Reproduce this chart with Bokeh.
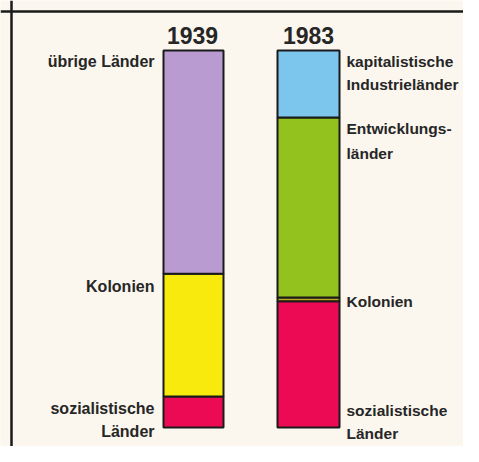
from bokeh.plotting import figure
from bokeh.models import Range1d, Label, Span
from bokeh.embed import file_html
from bokeh.resources import INLINE

# Data (percent shares)
years = ["1939", "1983"]
groups_1939 = ["sozialistische Länder", "Kolonien", "übrige Länder"]
shares_1939 = [8.2, 32.6, 59.2]
groups_1983 = ["sozialistische Länder", "Kolonien", "Entwicklungsländer", "kapitalistische Industrieländer"]
shares_1983 = [33.5, 1.0, 47.7, 17.8]

colors_1939 = ["#ec0a55", "#f7ea0c", "#b99bd2"]
colors_1983 = ["#ec0a55", "#b9a81a", "#93c21f", "#7cc6ee"]

W, H = 463, 446
PX = 3.77  # pixels per percent
bottom_px = H - 427
p = figure(width=W, height=H, output_backend="svg", toolbar_location=None,
           x_range=Range1d(0, W), y_range=Range1d(-bottom_px / PX, (H - bottom_px) / PX),
           min_border=0, min_border_left=0, min_border_right=0, min_border_top=0, min_border_bottom=0)
p.axis.visible = False
p.grid.visible = False
p.outline_line_color = None
p.background_fill_color = "#fbf6ee"
p.border_fill_color = "#fbf6ee"

def stack(x, width, shares, colors):
    bottom = 0.0
    for s, c in zip(shares, colors):
        p.vbar(x=[x], width=width, bottom=[bottom], top=[bottom + s], fill_color=c,
               line_color="#1a1a1a", line_width=2)
        bottom += s

stack(193, 60, shares_1939, colors_1939)
stack(308, 62, shares_1983, colors_1983)

# frame lines (top, left)
p.add_layout(Span(location=(H - bottom_px - 11) / PX, dimension="width", line_color="#1a1a1a", line_width=2.5))
p.add_layout(Span(location=11, dimension="height", line_color="#1a1a1a", line_width=2.5))

TXT = "#262626"
FONT = "Liberation Sans"

def lab(x, y_ref, text, align, size="16px", weight="bold"):
    p.add_layout(Label(x=x, y=H - y_ref, x_units="screen", y_units="screen", text=text,
                       text_align=align, text_baseline="middle", text_font=FONT,
                       text_font_size=size, text_font_style=weight, text_color=TXT))

lab(192, 35, years[0], "center", size="23px", weight="bold")
lab(308, 35, years[1], "center", size="23px", weight="bold")

LX = 154
lab(LX, 61, "übrige Länder", "right")
lab(LX, 286, "Kolonien", "right")
lab(LX, 408, "sozialistische", "right")
lab(LX, 431, "Länder", "right")

RX = 346
RS = "15.5px"
lab(RX, 61, "kapitalistische", "left", size=RS)
lab(RX, 84, "Industrieländer", "left", size=RS)
lab(RX, 128, "Entwicklungs-", "left", size=RS)
lab(RX, 153, "länder", "left", size=RS)
lab(RX, 301, "Kolonien", "left", size=RS)
lab(RX, 410, "sozialistische", "left", size=RS)
lab(RX, 433, "Länder", "left", size=RS)

open("out.html", "w").write(file_html(p, INLINE))
